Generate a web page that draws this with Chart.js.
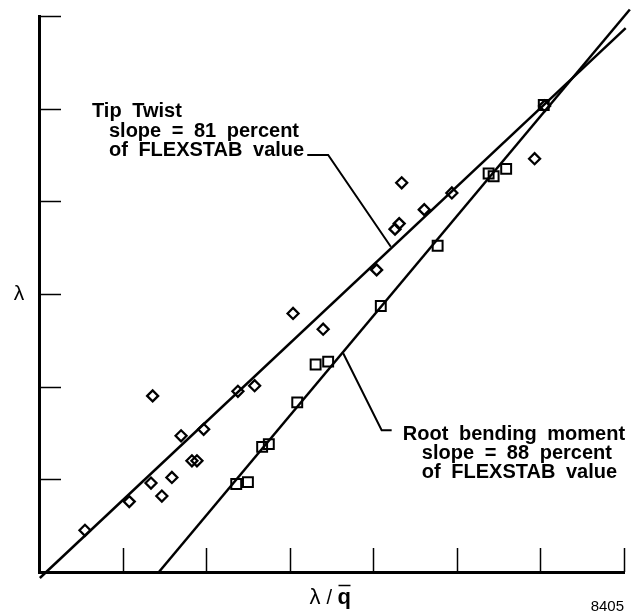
<!DOCTYPE html>
<html>
<head>
<meta charset="utf-8">
<script src="https://cdn.jsdelivr.net/npm/chart.js@4/dist/chart.umd.min.js"></script>
<style>
  body { margin: 0; background: #fff; }
  #wrap { width: 639px; height: 613px; }
</style>
</head>
<body>
<div id="wrap"><canvas id="chart" width="639" height="613"></canvas></div>
<script>
// tick positions (no numbers printed on the original)
const xTicks = [1, 2, 3, 4, 5, 6, 7];
const yTicks = [1, 2, 3, 4, 5, 6];

// tip twist measurements (diamonds)
const tipX = [0.55, 1.08, 1.34, 1.47, 1.59, 1.36, 1.70, 1.83, 1.89, 1.97, 2.38,
              2.58, 3.04, 3.40, 4.04, 4.26, 4.31, 4.34, 4.61, 4.94, 5.93, 6.05];
const tipY = [0.45, 0.76, 0.96, 0.82, 1.02, 1.90, 1.47, 1.20, 1.20, 1.54, 1.95,
              2.01, 2.79, 2.62, 3.26, 3.70, 3.76, 4.20, 3.91, 4.09, 4.46, 5.03];

// root bending moment measurements (squares)
const rootX = [2.36, 2.50, 2.67, 2.75, 3.09, 3.31, 3.46, 4.09, 4.77, 5.38, 5.44, 5.59, 6.04];
const rootY = [0.95, 0.97, 1.35, 1.38, 1.83, 2.24, 2.27, 2.87, 3.52, 4.30, 4.27, 4.35, 5.04];

// fitted lines
const tipFitX = [0.01, 7.02];
const tipFitY = [-0.065, 5.87];
const rootFitX = [1.435, 7.07];
const rootFitY = [0, 6.07];

// leader lines to the notes
const tipLeaderX = [3.21, 3.46, 4.21];
const tipLeaderY = [4.50, 4.50, 3.51];
const rootLeaderX = [3.64, 4.10, 4.22];
const rootLeaderY = [2.36, 1.53, 1.53];

const tipNote = ['Tip Twist', 'slope = 81 percent', 'of FLEXSTAB value'];
const rootNote = ['Root bending moment', 'slope = 88 percent', 'of FLEXSTAB value'];

function pts(xs, ys) {
    return xs.map((x, i) => ({ x: x, y: ys[i] }));
}

function lineSet(xs, ys, w) {
    return {
        data: pts(xs, ys),
        showLine: true,
        borderColor: '#000',
        borderWidth: w,
        pointRadius: 0,
        fill: false,
        clip: false
    };
}

// inward ticks, notes and axis titles
const extras = {
    id: 'extras',
    afterDraw(chart) {
        const ctx = chart.ctx;
        const a = chart.chartArea;
        const xs = chart.scales.x, ys = chart.scales.y;
        ctx.save();
        ctx.strokeStyle = '#000';
        ctx.lineWidth = 1.5;
        yTicks.forEach(v => {
            const p = Math.round(ys.getPixelForValue(v)) + 0.5;
            ctx.beginPath();
            ctx.moveTo(a.left, p);
            ctx.lineTo(a.left + 22, p);
            ctx.stroke();
        });
        xTicks.forEach(v => {
            const p = Math.round(xs.getPixelForValue(v)) + 0.5;
            ctx.beginPath();
            ctx.moveTo(p, a.bottom);
            ctx.lineTo(p, a.bottom - 24);
            ctx.stroke();
        });

        ctx.fillStyle = '#000';
        ctx.font = 'bold 20px "Liberation Sans", Arial, sans-serif';
        ctx.wordSpacing = '5px';
        ctx.textBaseline = 'alphabetic';
        ctx.textAlign = 'left';
        const tipLeft = [0.634, 0.837, 0.837];
        const tipBase = [4.908, 4.693, 4.488];
        tipNote.forEach((t, i) => {
            ctx.fillText(t, xs.getPixelForValue(tipLeft[i]), ys.getPixelForValue(tipBase[i]));
        });
        const rootLeft = [4.354, 4.581, 4.581];
        const rootBase = [1.424, 1.219, 1.014];
        rootNote.forEach((t, i) => {
            ctx.fillText(t, xs.getPixelForValue(rootLeft[i]), ys.getPixelForValue(rootBase[i]));
        });
        ctx.wordSpacing = '0px';

        // y axis title
        ctx.font = '21px "Liberation Sans", Arial, sans-serif';
        ctx.textAlign = 'center';
        ctx.textBaseline = 'middle';
        ctx.fillText('λ', 19, ys.getPixelForValue(3));

        // x axis title  λ / q-bar
        const cx = xs.getPixelForValue(3.5);
        ctx.textAlign = 'left';
        ctx.textBaseline = 'alphabetic';
        ctx.font = '22px "Liberation Sans", Arial, sans-serif';
        ctx.fillText('λ', cx - 22, 604);
        ctx.font = '20px "Liberation Sans", Arial, sans-serif';
        ctx.fillText('/', cx - 5, 604);
        ctx.font = 'bold 22px "Liberation Sans", Arial, sans-serif';
        ctx.fillText('q', cx + 6, 604);
        ctx.lineWidth = 1.5;
        ctx.beginPath();
        ctx.moveTo(cx + 7, 585.5);
        ctx.lineTo(cx + 19, 585.5);
        ctx.stroke();

        ctx.font = '15px "Liberation Sans", Arial, sans-serif';
        ctx.textAlign = 'right';
        ctx.fillText('8405', 624, 611);
        ctx.restore();
    }
};

new Chart(document.getElementById('chart').getContext('2d'), {
    type: 'scatter',
    data: {
        datasets: [
            lineSet(tipFitX, tipFitY, 2.5),
            lineSet(rootFitX, rootFitY, 2.5),
            lineSet(tipLeaderX, tipLeaderY, 2),
            lineSet(rootLeaderX, rootLeaderY, 2),
            {
                data: pts(tipX, tipY),
                pointStyle: 'rectRot',
                pointRadius: 5.5,
                borderColor: '#000',
                borderWidth: 2.3,
                backgroundColor: 'rgba(0,0,0,0)',
                clip: false
            },
            {
                data: pts(rootX, rootY),
                pointStyle: 'rect',
                pointRadius: 7,
                borderColor: '#000',
                borderWidth: 2,
                backgroundColor: 'rgba(0,0,0,0)',
                clip: false
            }
        ]
    },
    options: {
        responsive: false,
        animation: false,
        layout: { padding: { left: 39, top: 16, right: 15, bottom: 41 } },
        plugins: { legend: { display: false }, tooltip: { enabled: false } },
        scales: {
            x: {
                type: 'linear', min: 0, max: 7,
                grid: { display: false, drawTicks: false },
                ticks: { display: false },
                border: { display: true, color: '#000', width: 3 }
            },
            y: {
                type: 'linear', min: 0, max: 6,
                grid: { display: false, drawTicks: false },
                ticks: { display: false },
                border: { display: true, color: '#000', width: 3 }
            }
        }
    },
    plugins: [extras]
});
</script>
</body>
</html>
